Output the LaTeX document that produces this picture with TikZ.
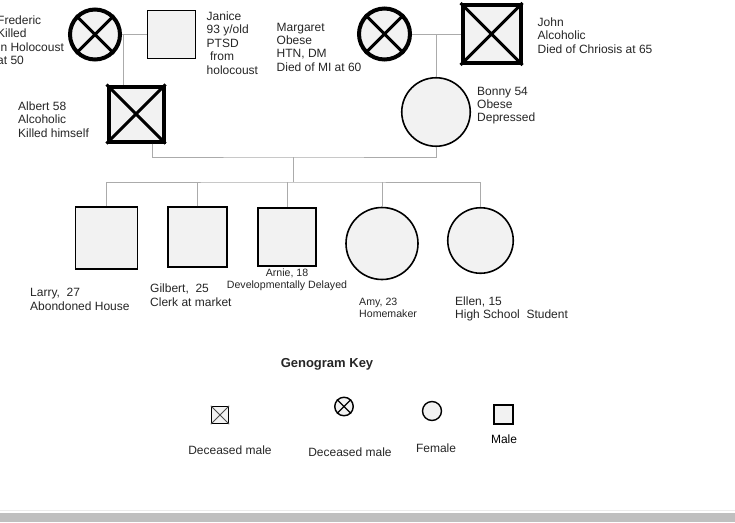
\documentclass[tikz,border=0pt]{standalone}
\usepackage{fontspec}
\setmainfont{Liberation Sans}
\begin{document}
\begin{tikzpicture}[x=1pt, y=-1pt,
	person/.style={draw=black, fill=black!5, inner sep=0pt, line width=1.6pt},
	male/.style={person, rectangle, minimum size=#1},
	female/.style={person, circle, minimum size=#1},
	dead/.style={line width=4pt},
	link/.style={draw=black!33, line width=1pt},
	txt/.style={anchor=north west, align=left, inner sep=0pt, text=black!85, font=\fontsize{12}{13.4}\selectfont},
	smalltxt/.style={txt, font=\fontsize{10.6}{11.8}\selectfont},
	keytxt/.style={anchor=base, inner sep=0pt, text=black!85, font=\fontsize{12}{14}\selectfont}]
	\useasboundingbox (0,0) rectangle (735,522);
	\fill [white] (0,0) rectangle (735,522);
	\fill [black!25] (0,513) rectangle (735,522);
	\draw [black!8] (0,510.5) -- (735,510.5);
	% grandparents and parents
	\node [female=50, dead] (fred)    at (95,34.5)    {};
	\node [male=48]         (janice)  at (171.5,34.5) {};
	\node [male=55, dead]   (albert)  at (136,114)    {};
	\node [female=51, dead] (marg)    at (384.5,34)   {};
	\node [male=58, dead]   (john)    at (491.5,34)   {};
	\node [female=68.5]     (bonny)   at (436,112)    {};
	\foreach \p in {fred, marg, albert, john}
		\draw [line width=3pt] (\p.north east) -- (\p.south west) (\p.north west) -- (\p.south east);
	% children
	\node [male=62]    (larry)   at (106.5,238) {};
	\node [male=59.5]  (gilbert) at (197.5,237) {};
	\node [male=58.5]  (arnie)   at (287,237)   {};
	\node [female=72]  (amy)     at (382,243.5) {};
	\node [female=65.5] (ellen)  at (480.5,240.5) {};
	% connectors
	\coordinate (mid) at (293,157);
	\coordinate (sib) at (293,182);
	\draw [link] (fred) -- (janice);
	\draw [link] ([xshift=1pt]fred.east) -- ([xshift=1pt]fred.east |- albert.north);
	\draw [link] (marg) -- (john);
	\draw [link] (bonny.north) -- (bonny.north |- marg.center);
	\draw [link] ([xshift=16pt]albert.south) |- (mid) -| (bonny.south);
	\draw [link] (mid) -- (sib);
	\draw [link] (larry.north) |- (sib) -| (ellen.north);
	\foreach \c in {gilbert, arnie, amy}
		\draw [link] (\c.north) -- (\c.north |- sib);
	% labels
	\node [txt] (fredtxt)   at (-3,15.7)    {Frederic\\Killed\\In Holocoust\\at 50};
	\node [txt] (janicetxt) at (206.5,11.7) {Janice\\93 y/old\\PTSD\\~from\\holocoust};
	\node [txt] (margtxt)   at (276.5,22.7) {Margaret\\Obese\\HTN, DM\\Died of MI at 60};
	\node [txt] (johntxt)   at (537.5,17.7) {John\\Alcoholic\\Died of Chriosis at 65};
	\node [txt] (albertxt)  at (18,101.7)   {Albert 58\\Alcoholic\\Killed himself};
	\node [txt] (bonnytxt)  at (477,86.7)   {Bonny 54\\Obese\\Depressed};
	\node [txt] (larrytxt)  at (30,288.4)   {Larry,\ \ 27\\Abondoned House};
	\node [txt] (gilbtxt)   at (150,284)    {Gilbert,\ \ 25\\Clerk at market};
	\node [smalltxt, anchor=north, align=center] (arnietxt) at (287,268.5) {Arnie, 18\\Developmentally Delayed};
	\node [smalltxt] (amytxt)  at (359,297.9) {Amy, 23\\Homemaker};
	\node [txt, font=\fontsize{12}{12.7}\selectfont] (ellentxt) at (455,296.4) {Ellen, 15\\High School\ \ Student};
	% key
	\node [keytxt, font=\bfseries\fontsize{13}{15}\selectfont] (keytitle) at (327,367.7) {Genogram Key};
	\node [male=17, line width=1.4pt] (keydm) at (220,415)   {};
	\node [female=18.5, line width=1.4pt] (keydf) at (344,406.5) {};
	\node [female=19, line width=1.4pt] (keyf)  at (432,411)   {};
	\node [male=19, line width=1.4pt]   (keym)  at (503.5,414.5) {};
	\draw [line width=0.8pt, black!70] (keydm.north east) -- (keydm.south west) (keydm.north west) -- (keydm.south east);
	\draw [line width=1.2pt] (keydf.north east) -- (keydf.south west) (keydf.north west) -- (keydf.south east);
	\node [keytxt] (keydmtxt) at (230,454.3) {Deceased male};
	\node [keytxt] (keydftxt) at (350,456.3) {Deceased male};
	\node [keytxt] (keyftxt)  at (436,452.3) {Female};
	\node [keytxt, text=black] (keymtxt) at (504,443.3) {Male};
\end{tikzpicture}
\end{document}
